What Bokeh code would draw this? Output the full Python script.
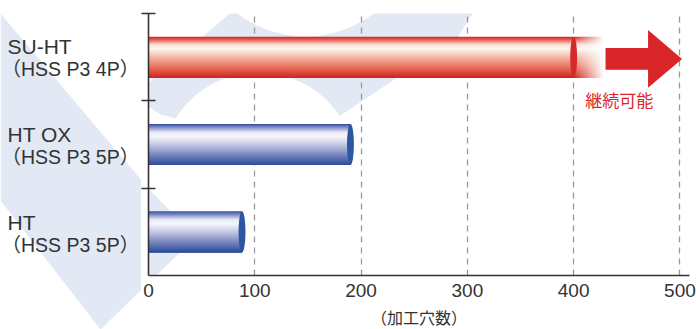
import numpy as np
from bokeh.plotting import figure
from bokeh.layouts import row
from bokeh.models import ColumnDataSource, FixedTicker, PolyAnnotation, Range1d
from bokeh.core.properties import value
from bokeh.embed import file_html
from bokeh.resources import INLINE

# ---------------- data ----------------
categories = ["HT", "HT OX", "SU-HT"]
subtitles = ["（HSS P3 5P）", "（HSS P3 5P）", "（HSS P3 4P）"]
holes = [88, 190, 400]
series_colour = ["blue", "blue", "red"]
continues = [False, False, True]
continuation_label = "継続可能"
x_ticks = [0, 100, 200, 300, 400, 500]
x_axis_label = "（加工穴数）"

# ---------------- styling ----------------
FONT = "Liberation Sans, Noto Sans CJK JP, sans-serif"
TXT = "#333333"
RED = "#d9262b"
BLUE_DARK = "#2c569f"
RED_DARK = "#d42a2c"
WATERMARK = "#e2e9f4"

stops = {
    "blue": [(0.0, (44, 78, 152)), (0.07, (118, 130, 194)), (0.2, (232, 234, 246)),
             (0.3, (247, 247, 252)), (0.5, (196, 200, 228)), (0.75, (122, 134, 192)),
             (0.92, (66, 94, 166)), (1.0, (40, 76, 150))],
    "red": [(0.0, (210, 35, 35)), (0.07, (228, 92, 80)), (0.2, (250, 226, 216)),
            (0.3, (253, 246, 241)), (0.5, (244, 182, 162)), (0.75, (231, 112, 92)),
            (0.92, (218, 60, 50)), (1.0, (210, 30, 35))],
}


def interp(st, t):
    for (t0, c0), (t1, c1) in zip(st[:-1], st[1:]):
        if t <= t1:
            f = (t - t0) / (t1 - t0) if t1 > t0 else 0.0
            return "#%02x%02x%02x" % tuple(int(round(a + (b - a) * f)) for a, b in zip(c0, c1))
    return "#%02x%02x%02x" % st[-1][1]


W, H = 696, 329
LW = 141                      # width of the label strip
FL, FR, FT, FB = 148, 689, 13, 277  # main frame in page px
PX_PER_CAT = (FB - FT) / 3.0

# ---------------- watermark shapes (decorative, page pixels) ----------------
def arc(cx, cy, r, a0, a1, n=24):
    a = np.radians(np.linspace(a0, a1, n))
    return list(zip(cx + r * np.cos(a), cy + r * np.sin(a)))


left_arm = [(0, 13), (147, 187), (195, 237), (100, 329), (0, 200)]
c1x, c1y, c1r = 305.0, -76.7, 112.7
a_start = np.degrees(np.arctan2(10 - c1y, 233 - c1x))
a_end = np.degrees(np.arctan2(0 - c1y, 388 - c1x))
right_band = [(233, 10)] + arc(c1x, c1y, c1r, a_start, a_end) + [(480, 0), (457, 37), (340, 115)]
c2x, c2y, c2r = 258.0, 170.0, 98.0
b0 = np.degrees(np.arctan2(115 - c2y, 340 - c2x))
b1 = np.degrees(np.arctan2(118 - c2y, 175 - c2x))
right_band += arc(c2x, c2y, c2r, b0, b1) + [(160, 114), (148, 106), (141, 96), (141, 88)]
shapes = [left_arm, right_band]

centers = [i + 0.5 for i in range(len(categories))]

# ---------------- label strip (left) ----------------
lp = figure(width=LW, height=H, output_backend="svg", toolbar_location=None,
            x_range=Range1d(0, LW), y_range=Range1d(0, 3),
            x_axis_location=None, y_axis_location=None,
            min_border_left=0, min_border_right=0, min_border_top=FT,
            min_border_bottom=H - FB)
full_strip = False
try:
    lp.frame_align = False
    full_strip = True
except Exception:
    full_strip = False
if full_strip:
    lp.min_border_top = 0
    lp.min_border_bottom = 0
    lp.y_range = Range1d(-(H - FB) / PX_PER_CAT, 3 + FT / PX_PER_CAT)
lp.grid.visible = False
lp.outline_line_color = None
lp.background_fill_color = "white"
lp.border_fill_color = "white"
lp.patches(xs=[[x for x, _ in s] for s in shapes],
           ys=[[(FB - y) / PX_PER_CAT for _, y in s] for s in shapes],
           fill_color=WATERMARK, line_color=None)

lp.text(x=[7] * len(categories), y=[c + 0.125 for c in centers], text=categories,
        text_font=value(FONT), text_font_size="21px", text_color=TXT,
        text_baseline="middle", text_align="left")
lp.text(x=[1] * len(categories), y=[c - 0.135 for c in centers], text=subtitles,
        text_font=value(FONT), text_font_size="19.5px", text_color=TXT,
        text_baseline="middle", text_align="left")

# ---------------- main chart ----------------
MW = W - LW
p = figure(width=MW, height=H, output_backend="svg", toolbar_location=None,
           x_range=Range1d(0, 509), y_range=Range1d(0, 3),
           min_border_left=FL - LW, min_border_right=W - FR, min_border_top=FT,
           min_border_bottom=H - FB)
if full_strip:
    p.frame_align = False
p.background_fill_color = "white"
p.border_fill_color = "white"
p.outline_line_color = None

for s in shapes:
    xs = [x for x, _ in s]
    ys = [y for _, y in s]
    try:
        ann = PolyAnnotation(xs=[x - LW for x in xs], ys=ys, xs_units="canvas",
                             ys_units="canvas", fill_color=WATERMARK, fill_alpha=1.0,
                             line_color=None, level="image")
    except Exception:
        ann = PolyAnnotation(xs=[x - FL for x in xs], ys=[FB - y for y in ys],
                             xs_units="screen", ys_units="screen",
                             fill_color=WATERMARK, fill_alpha=1.0, line_color=None,
                             level="image")
    p.add_layout(ann)

# ---------------- bars (layered gradient, no seams) ----------------
bar_h = 0.47
N = 40
FADE = 29.0
q = dict(left=[], right=[], top=[], bottom=[], color=[])
for i, (v, c) in enumerate(zip(holes, series_colour)):
    top = centers[i] + bar_h / 2
    bot = centers[i] - bar_h / 2
    dh = bar_h / N
    right = v + FADE if continues[i] else v
    for k in range(N):
        t = (k + 0.5) / N
        q["left"].append(0)
        q["right"].append(right)
        q["top"].append(top - k * dh)
        q["bottom"].append(bot)
        q["color"].append(interp(stops[c], t))
p.quad(left="left", right="right", top="top", bottom="bottom", source=ColumnDataSource(q),
       fill_color="color", line_color=None)

# fade-out of the continuing bar: cumulative white veils
M = 20
for i, flag in enumerate(continues):
    if not flag:
        continue
    fl, fr, ft, fb, fa = [], [], [], [], []
    for j in range(M):
        remain_prev = 1.0 - j / M
        remain_now = 1.0 - (j + 1) / M
        a = 1.0 - remain_now / remain_prev
        fl.append(holes[i] + j * FADE / M)
        fr.append(holes[i] + FADE + 1)
        ft.append(centers[i] + bar_h / 2 + 0.01)
        fb.append(centers[i] - bar_h / 2 - 0.01)
        fa.append(a)
    p.quad(left=fl, right=fr, top=ft, bottom=fb, fill_color="white", fill_alpha=fa,
           line_color=None)

# end caps
cap_cols = [BLUE_DARK if c == "blue" else RED_DARK for c in series_colour]
p.ellipse(x=holes, y=centers, width=6.5, height=bar_h, fill_color=cap_cols, line_color=None)

# ---------------- continuation arrow ----------------
for i, flag in enumerate(continues):
    if not flag:
        continue
    cy = centers[i] - 0.02
    x0 = holes[i] + 30
    xb = holes[i] + 70
    xt = holes[i] + 102
    p.patch(x=[x0, xb, xb, xt, xb, xb, x0],
            y=[cy + 0.125, cy + 0.125, cy + 0.33, cy, cy - 0.33, cy - 0.125, cy - 0.125],
            fill_color=RED, line_color=None)
    p.text(x=[holes[i] + 43], y=[centers[i] - 0.49], text=[continuation_label],
           text_color=RED, text_font=value("Noto Sans CJK JP"),
           text_font_size="17px", text_align="center", text_baseline="middle")

# ---------------- axes & grid ----------------
xa = p.xaxis[0]
xa.ticker = FixedTicker(ticks=x_ticks)
xa.major_tick_line_color = None
xa.minor_tick_line_color = None
xa.major_tick_out = 0
xa.major_tick_in = 0
xa.axis_line_color = TXT
xa.axis_line_width = 1.6
xa.major_label_text_font = FONT
xa.major_label_text_font_size = "19px"
xa.major_label_text_color = TXT
xa.major_label_standoff = 8
xa.axis_label = x_axis_label
xa.axis_label_text_font = FONT
xa.axis_label_text_font_size = "16px"
xa.axis_label_text_font_style = "normal"
xa.axis_label_text_color = TXT
xa.axis_label_standoff = 10

ya = p.yaxis[0]
ya.ticker = FixedTicker(ticks=[1, 2, 3])
ya.major_tick_in = 7
ya.major_tick_out = 7
ya.major_tick_line_color = TXT
ya.major_tick_line_width = 1.6
ya.minor_tick_line_color = None
ya.axis_line_color = TXT
ya.axis_line_width = 1.6
ya.major_label_text_font_size = "1px"
ya.major_label_text_color = None
ya.major_label_standoff = 0

p.xgrid.ticker = FixedTicker(ticks=x_ticks[1:])
p.xgrid.grid_line_color = "#9a9a9a"
p.xgrid.grid_line_width = 1.3
p.xgrid.grid_line_dash = "6 5"
p.ygrid.visible = False

layout = row(lp, p)
open("out.html", "w").write(file_html(layout, INLINE))
